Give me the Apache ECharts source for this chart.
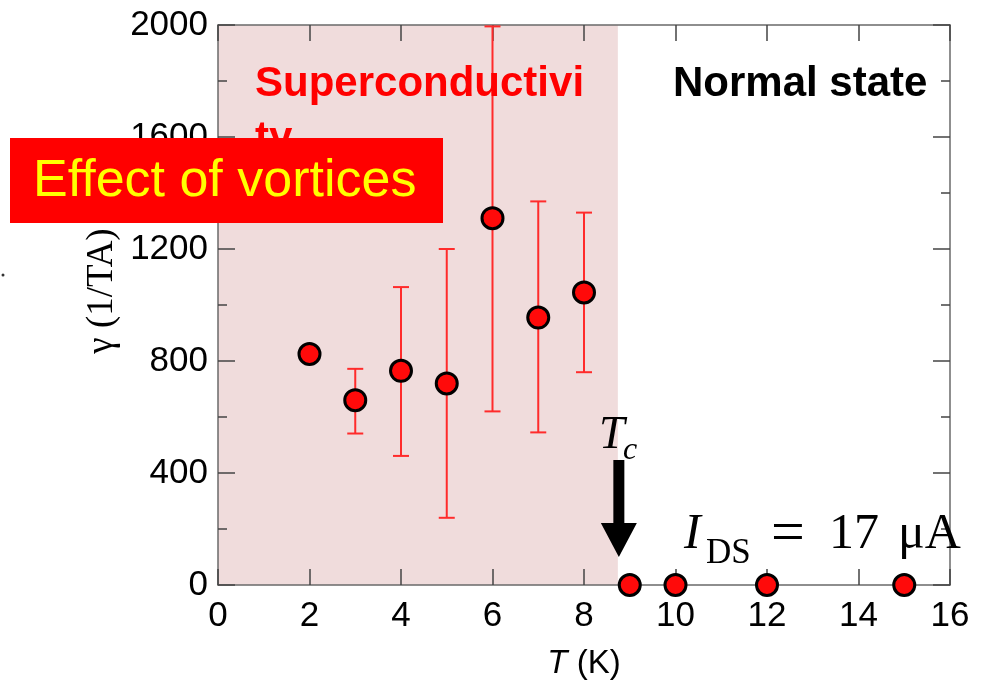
<!DOCTYPE html>
<html>
<head>
<meta charset="utf-8">
<script src="https://cdn.jsdelivr.net/npm/echarts@6/dist/echarts.min.js"></script>
<style>
  html, body { margin: 0; padding: 0; background: #fff; }
  #chart { width: 988px; height: 685px; }
</style>
</head>
<body>
<div id="chart"></div>
<script>
// Temperature points (K) and the measured gamma values (1/TA)
const T_VALUES = [2, 3, 4, 5, 6, 7, 8, 9, 10, 12, 15];
const GAMMA = [825, 660, 765, 720, 1310, 955, 1045, 0, 0, 0, 0];

// Error bars: temperature, lower and upper bound
const ERR_T = [3, 4, 5, 6, 7, 8];
const ERR_LOW = [541, 461, 240, 620, 545, 760];
const ERR_HIGH = [772, 1064, 1200, 1995, 1370, 1330];

// Axis ranges and tick steps
const X_MIN = 0, X_MAX = 16, X_STEP = 2;
const Y_MIN = 0, Y_MAX = 2000, Y_STEP = 400;

// Upper edge of the superconducting region (K)
const SC_EDGE = 8.74;

const AXIS_LINE = '#6a6a6a';
const TICK = '#444';
const SANS = '"Liberation Sans", Arial, sans-serif';
const SERIF = '"Liberation Serif", "Times New Roman", serif';

const scatterData = T_VALUES.map((t, i) => [t, GAMMA[i]]);
const errData = ERR_T.map((t, i) => [t, ERR_LOW[i], ERR_HIGH[i]]);

function renderErrorBar(params, api) {
  const x = api.value(0);
  const pLo = api.coord([x, api.value(1)]);
  const pHi = api.coord([x, api.value(2)]);
  const hw = 8;
  const style = { stroke: '#ff2b2b', lineWidth: 2 };
  return {
    type: 'group',
    children: [
      { type: 'line', shape: { x1: pLo[0], y1: pLo[1], x2: pHi[0], y2: pHi[1] }, style },
      { type: 'line', shape: { x1: pLo[0] - hw, y1: pLo[1], x2: pLo[0] + hw, y2: pLo[1] }, style },
      { type: 'line', shape: { x1: pHi[0] - hw, y1: pHi[1], x2: pHi[0] + hw, y2: pHi[1] }, style }
    ]
  };
}

const plainNumber = v => String(v);

function xAxisCfg(pos, withLabels) {
  return {
    type: 'value', position: pos, min: X_MIN, max: X_MAX, interval: X_STEP, z: 3,
    axisLine: { show: true, onZero: false, lineStyle: { color: AXIS_LINE, width: 1.5 } },
    axisTick: { show: true, inside: true, length: 16, lineStyle: { color: TICK, width: 1.5 } },
    axisLabel: { show: withLabels, fontSize: 35, color: '#000', fontFamily: SANS, margin: 14,
                 formatter: plainNumber },
    splitLine: { show: false }
  };
}

function yAxisCfg(pos, withLabels) {
  return {
    type: 'value', position: pos, min: Y_MIN, max: Y_MAX, interval: Y_STEP, z: 3,
    axisLine: { show: true, onZero: false, lineStyle: { color: AXIS_LINE, width: 1.5 } },
    axisTick: { show: true, inside: true, length: 17, lineStyle: { color: TICK, width: 1.5 } },
    minorTick: { show: true, splitNumber: 2, length: 9, lineStyle: { color: TICK, width: 1.5 } },
    axisLabel: { show: withLabels, fontSize: 35, color: '#000', fontFamily: SANS, margin: 10,
                 formatter: plainNumber },
    splitLine: { show: false }
  };
}

const chart = echarts.init(document.getElementById('chart'), null, { renderer: 'canvas' });

const bottomX = xAxisCfg('bottom', true);
bottomX.name = '{it|T} (K)';
bottomX.nameLocation = 'middle';
bottomX.nameGap = 62;
bottomX.nameTextStyle = {
  fontSize: 33, fontFamily: SANS, color: '#000',
  rich: { it: { fontSize: 33, fontFamily: SANS, fontStyle: 'italic', color: '#000' } }
};

chart.setOption({
  animation: false,
  backgroundColor: '#fff',
  grid: { left: 218, right: 38, top: 25, bottom: 98, containLabel: false },
  xAxis: [bottomX, xAxisCfg('top', false)],
  yAxis: [yAxisCfg('left', true), yAxisCfg('right', false)],
  series: [
    {
      name: 'region', type: 'scatter', data: [], z: 1,
      markArea: {
        silent: true,
        itemStyle: { color: '#f0dcdc' },
        data: [[{ xAxis: X_MIN }, { xAxis: SC_EDGE }]]
      }
    },
    {
      name: 'error', type: 'custom', data: errData, renderItem: renderErrorBar,
      encode: { x: 0, y: [1, 2] }, z: 4, clip: false
    },
    {
      name: 'gamma', type: 'scatter', data: scatterData, symbol: 'circle', symbolSize: 21,
      itemStyle: { color: '#ff0a0a', borderColor: '#000', borderWidth: 3, opacity: 1 },
      z: 6, clip: false
    }
  ]
});

// Annotations: arrow at the transition, labels and the highlight box
const tip = chart.convertToPixel({ xAxisIndex: 0, yAxisIndex: 0 }, [SC_EDGE, 0]);
const ax = tip[0] + 1, ay = tip[1] - 28;

chart.setOption({
  graphic: [
    { type: 'text', x: 255, y: 84, z: 10,
      style: { text: 'Superconductivi', font: 'bold 42px ' + SANS, fill: '#ff0000', verticalAlign: 'middle' } },
    { type: 'text', x: 255, y: 139, z: 10,
      style: { text: 'ty', font: 'bold 42px ' + SANS, fill: '#ff0000', verticalAlign: 'middle' } },
    { type: 'text', x: 673, y: 84, z: 10,
      style: { text: 'Normal state', font: 'bold 42px ' + SANS, fill: '#000', verticalAlign: 'middle' } },
    { type: 'rect', z: 11, shape: { x: 10, y: 138, width: 433, height: 85 }, style: { fill: '#ff0000' } },
    { type: 'text', x: 33, y: 182, z: 12,
      style: { text: 'Effect of vortices', font: '52px ' + SANS, fill: '#ffff00', verticalAlign: 'middle' } },
    { type: 'text', x: 102, y: 291, rotation: Math.PI / 2, z: 10,
      style: { text: 'γ (1/TA)', font: '37px ' + SERIF, fill: '#000', align: 'center', verticalAlign: 'middle' } },
    { type: 'polygon', z: 10,
      shape: { points: [
        [ax - 5.5, ay - 97], [ax + 5.5, ay - 97], [ax + 5.5, ay - 34], [ax + 18, ay - 34],
        [ax, ay], [ax - 18, ay - 34], [ax - 5.5, ay - 34]
      ] },
      style: { fill: '#000' } },
    { type: 'text', x: 599, y: 436, z: 10,
      style: { text: 'T', font: 'italic 46px ' + SERIF, fill: '#000', verticalAlign: 'middle' } },
    { type: 'text', x: 623, y: 451, z: 10,
      style: { text: 'c', font: 'italic 32px ' + SERIF, fill: '#000', verticalAlign: 'middle' } },
    { type: 'text', x: 684, y: 535, z: 10,
      style: { text: 'I', font: 'italic 50px ' + SERIF, fill: '#000', verticalAlign: 'middle' } },
    { type: 'text', x: 706, y: 554, z: 10,
      style: { text: 'DS', font: '35px ' + SERIF, fill: '#000', verticalAlign: 'middle' } },
    { type: 'text', x: 771, y: 535, z: 10,
      style: { text: '=', font: '60px ' + SERIF, fill: '#000', verticalAlign: 'middle' } },
    { type: 'text', x: 829, y: 535, z: 10,
      style: { text: '17', font: '50px ' + SERIF, fill: '#000', verticalAlign: 'middle' } },
    { type: 'text', x: 898, y: 535, z: 10,
      style: { text: 'μA', font: '50px ' + SERIF, fill: '#000', verticalAlign: 'middle' } },
    { type: 'circle', z: 10, shape: { cx: 3, cy: 275, r: 1.5 }, style: { fill: '#333' } }
  ]
});
</script>
</body>
</html>
